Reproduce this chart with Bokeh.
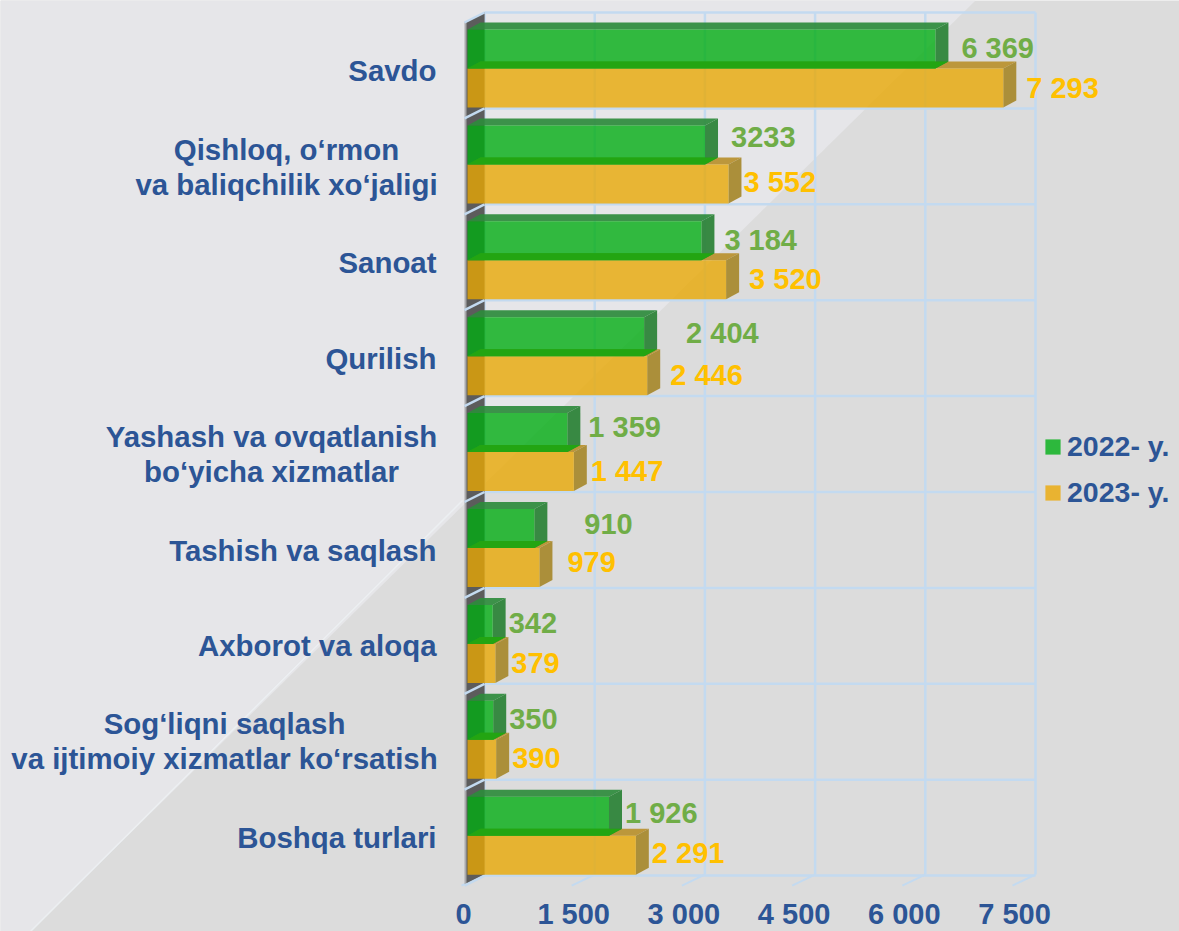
from bokeh.plotting import figure
from bokeh.embed import file_html
from bokeh.resources import INLINE
from bokeh.models import ColumnDataSource, Range1d, LinearAxis, FixedTicker, PolyAnnotation, Legend, LegendItem
from bokeh.core.properties import value

categories = ["Savdo", "Qishloq, o‘rmon\nva baliqchilik xo‘jaligi", "Sanoat", "Qurilish",
              "Yashash va ovqatlanish\nbo‘yicha xizmatlar", "Tashish va saqlash", "Axborot va aloqa",
              "Sog‘liqni saqlash\nva ijtimoiy xizmatlar ko‘rsatish", "Boshqa turlari"]
values_2022 = [6369, 3233, 3184, 2404, 1359, 910, 342, 350, 1926]
values_2023 = [7293, 3552, 3520, 2446, 1447, 979, 379, 390, 2291]
labels_2022 = ["6 369", "3233", "3 184", "2 404", "1 359", "910", "342", "350", "1 926"]
labels_2023 = ["7 293", "3 552", "3 520", "2 446", "1 447", "979", "379", "390", "2 291"]
x_ticks = [0, 1500, 3000, 4500, 6000, 7500]
x_tick_labels = ["0", "1 500", "3 000", "4 500", "6 000", "7 500"]

# label nudges in pixels, relative to the end of the bar / the middle of the group
nudge_x_2022 = [26, 26, 23, 42, 21, 50, 16, 16, 16]
nudge_x_2023 = [23, 15, 23, 23, 17, 28, 16, 16, 16]
nudge_y_2022 = [-21, -27, -20, -23, -25, -24, -21, -21, -23]
nudge_y_2023 = [19, 18, 19, 19, 19, 14, 19, 18, 17]
# where each two-line category block is centred: pixels left of the zero line, pixels below the group middle
block_centre = {1: (181, 3), 4: (196, 2), 7: (243, 1)}

W, H = 1179, 931
PX = 551 / 7500      # pixels per value unit
STEP = 95.9          # pixels per category
X0, Y0 = 467, 68
BLUE, GREEN_T, GOLD_T = "#2c5596", "#70ad47", "#ffc000"
FONT = value("Liberation Sans")
FS = "29px"
FS_CAT = "29.4px"

def xd(px):
    return px / PX
def yd(px):
    return px / STEP

x_start = -X0 / PX
y_start = -Y0 / STEP
x_rng = Range1d(x_start, x_start + W / PX)
y_rng = Range1d(y_start + H / STEP, y_start)

p = figure(width=W, height=H, x_range=x_rng, y_range=y_rng, output_backend="svg", toolbar_location=None,
           min_border=0, x_axis_location=None, y_axis_location=None)
p.outline_line_color = None
p.grid.visible = False
p.background_fill_color = "#dcdcdc"
p.border_fill_color = "#dcdcdc"

# slide background: lighter diagonal sheet (screen coordinates, decoration only)
p.add_layout(PolyAnnotation(xs=[0, 975, 30, 0], ys=[H, H, 0, 0], xs_units="screen", ys_units="screen",
                            fill_color="#e6e6e9", fill_alpha=1, line_alpha=0, level="underlay"))
p.add_layout(PolyAnnotation(xs=[462, 30], ys=[H - 500, 0], xs_units="screen", ys_units="screen",
                            fill_alpha=0, line_color="#eef1f4", line_width=1.5, line_alpha=0.8, level="underlay"))

DX, DY = xd(13), yd(7)
WX, WY0, WY1 = xd(17), -0.584, 8.405
FACE = yd(39)

# back wall grid
gx = [v + WX for v in x_ticks]
gy = [WY0 + i for i in range(10)]
GRID = "#c3daf0"
p.segment(x0=gx, x1=gx, y0=[WY0] * 6, y1=[WY1] * 6, line_color=GRID, line_width=2.5)
p.segment(x0=[WX] * 10, x1=[gx[-1]] * 10, y0=gy, y1=gy, line_color=GRID, line_width=2.5)
# floor ticks
p.segment(x0=gx, x1=[v - xd(6) for v in x_ticks], y0=[WY1] * 6, y1=[WY1 + yd(11)] * 6, line_color=GRID, line_width=2)
# side wall
p.patch(x=[-xd(3), WX, WX, -xd(3)], y=[WY0 + yd(10), WY0, WY1, WY1 + yd(10)], fill_color="#a9a9ab", line_alpha=0)
p.patch(x=[-xd(1), WX, WX, -xd(1)], y=[WY0 + yd(9), WY0, WY1, WY1 + yd(9)], fill_color="#5c5c5c", line_alpha=0)
p.segment(x0=[WX] * 10, x1=[-xd(3)] * 10, y0=gy, y1=[g + yd(10) for g in gy], line_color=GRID, line_width=2.5)

def bar3d(vals, top, front, topc, sidec, botc=None):
    top_x, top_y, side_x, side_y, bot_x, bot_y = [], [], [], [], [], []
    for i, v in enumerate(vals):
        t, b = i + top, i + top + FACE
        top_x.append([0, DX, v + DX, v]); top_y.append([t, t - DY, t - DY, t])
        side_x.append([v, v + DX, v + DX, v]); side_y.append([t, t - DY, b - DY, b])
        bot_x.append([0, DX, v + DX, v]); bot_y.append([b, b - DY, b - DY, b])
    p.patches(top_x, top_y, fill_color=topc, fill_alpha=0.92, line_alpha=0)
    p.patches(side_x, side_y, fill_color=sidec, fill_alpha=0.95, line_alpha=0)
    p.quad(left=[0] * 9, right=vals, top=[i + top for i in range(9)], bottom=[i + top + FACE for i in range(9)],
           fill_color=front, fill_alpha=0.79, line_alpha=0)
    if botc:
        p.patches(bot_x, bot_y, fill_color=botc, line_alpha=0)

bar3d(values_2023, 0, "#e8a702", "#b8902c", "#a88a30")
bar3d(values_2022, -FACE, "#00ac10", "#2e8b3c", "#2e843a", "#23a512")

# value labels
for vals, labs, nx, ny, col in [(values_2022, labels_2022, nudge_x_2022, nudge_y_2022, GREEN_T),
                                (values_2023, labels_2023, nudge_x_2023, nudge_y_2023, GOLD_T)]:
    src = ColumnDataSource(dict(x=vals, y=list(range(9)), t=labs, xo=nx, yo=ny))
    p.text("x", "y", text="t", x_offset="xo", y_offset="yo", source=src, text_align="left", text_baseline="middle",
           text_color=col, text_font=FONT, text_font_size=FS, text_font_style="bold")

# axes drawn in place over the full-bleed frame
AXIS_TEXT = dict(axis_line_color=None, major_tick_line_color=None, minor_tick_line_color=None,
                 major_label_standoff=0, major_label_text_color=BLUE, major_label_text_font="Liberation Sans",
                 major_label_text_font_style="bold")
p.extra_x_ranges["lab"] = Range1d(x_rng.start + xd(4), x_rng.end + xd(4))
xa = LinearAxis(x_range_name="lab", fixed_location=WY1 + yd(17), ticker=FixedTicker(ticks=x_ticks),
                major_label_overrides=dict(zip(x_ticks, x_tick_labels)), major_label_text_font_size=FS, **AXIS_TEXT)
p.add_layout(xa, "below")
single = [i for i in range(9) if i not in block_centre]
p.extra_y_ranges["lab"] = Range1d(y_rng.start - yd(2), y_rng.end - yd(2))
ya = LinearAxis(y_range_name="lab", fixed_location=xd(-25), ticker=FixedTicker(ticks=single),
                major_label_overrides={i: categories[i] for i in single}, major_label_text_font_size=FS_CAT, **AXIS_TEXT)
p.add_layout(ya, "left")
rows = list(block_centre)
p.text(x=[-xd(block_centre[i][0]) for i in rows], y=[i + yd(block_centre[i][1]) for i in rows],
       text=[categories[i] for i in rows],
       text_align="center", text_baseline="middle", text_color=BLUE, text_font=FONT, text_font_size=FS_CAT,
       text_font_style="bold", text_line_height=1.06)

# legend
r1 = p.quad(left=[0], right=[0], top=[0], bottom=[0], fill_color="#2db83d", line_alpha=0)
r2 = p.quad(left=[0], right=[0], top=[0], bottom=[0], fill_color="#e9b331", line_alpha=0)
leg = Legend(items=[LegendItem(label="2022- y.", renderers=[r1]), LegendItem(label="2023- y.", renderers=[r2])],
             location=(1043, 422), orientation="vertical", background_fill_alpha=0, border_line_color=None,
             padding=0, margin=0, spacing=13, glyph_width=19, glyph_height=19, label_standoff=5,
             label_text_font="Liberation Sans", label_text_font_size="28.5px", label_text_font_style="bold",
             label_text_color=BLUE)
p.add_layout(leg, "center")

open("out.html", "w").write(file_html(p, INLINE))
